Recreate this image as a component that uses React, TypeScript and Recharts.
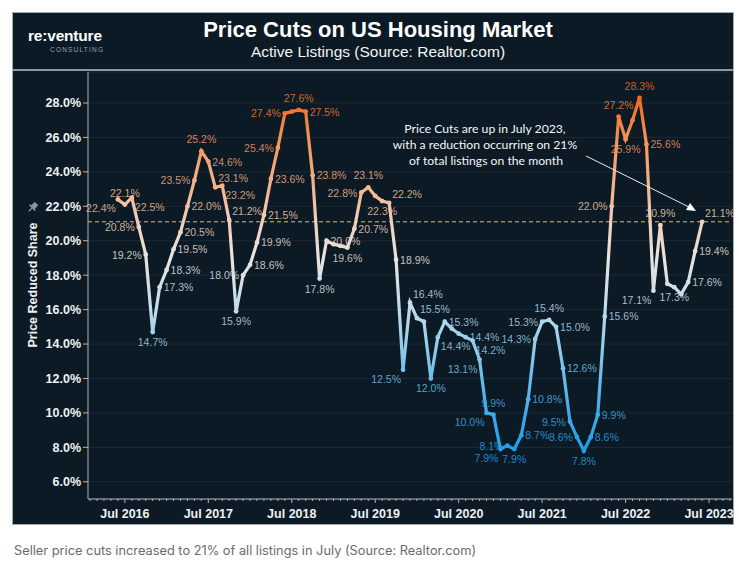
import { CartesianGrid, Line, LineChart, ReferenceLine, XAxis, YAxis } from "recharts"

// share of active listings with a price cut, monthly, Jun 2016 .. Jun 2023
const values2016 = [22.4, 22.1, 22.5, 20.8, 19.2, 14.7, 17.3]
const values2017 = [18.3, 19.5, 20.5, 22.0, 23.5, 25.2, 24.6, 23.1, 23.2, 21.2, 15.9, 18.0]
const values2018 = [18.6, 19.9, 21.5, 23.6, 25.4, 27.4, 27.5, 27.6, 27.5, 23.8, 17.8, 20.0]
const values2019 = [19.8, 19.7, 19.6, 20.7, 22.8, 23.1, 22.6, 22.3, 22.2, 18.9, 12.5, 16.4]
const values2020 = [15.5, 15.3, 12.0, 14.4, 15.3, 14.9, 14.6, 14.4, 14.2, 13.1, 10.0, 9.9]
const values2021 = [7.9, 8.1, 7.9, 8.7, 10.8, 14.3, 15.3, 15.4, 15.0, 12.6, 9.5, 8.6]
const values2022 = [7.8, 8.6, 9.9, 15.6, 22.0, 27.2, 25.9, 27.0, 28.3, 25.6, 17.1, 20.9]
const values2023 = [17.5, 17.3, 16.9, 17.6, 19.4, 21.1]

const latestValue = 21.1

const yTicks = [6, 8, 10, 12, 14, 16, 18, 20, 22, 24, 26, 28]
const xTickLabels = ["Jul 2016", "Jul 2017", "Jul 2018", "Jul 2019", "Jul 2020", "Jul 2021", "Jul 2022", "Jul 2023"]
const monthNames = ["Jan", "Feb", "Mar", "Apr", "May", "Jun", "Jul", "Aug", "Sep", "Oct", "Nov", "Dec"]

// where each point's value label sits ("" = no label)
const labelSide = [
  "bl", "t", "br", "l", "l", "b", "r",
  "r", "r", "r", "r", "l", "t", "r", "tr", "br", "tr", "b", "l",
  "r", "r", "r", "r", "l", "l", "", "t", "r", "r", "b", "r",
  "", "", "b", "r", "l", "t", "", "b", "tr", "r", "bl", "tr",
  "tr", "", "b", "br", "r", "", "", "r", "br", "bl", "bl", "t",
  "bl", "l", "b", "r", "r", "l", "l", "t", "r", "r", "l", "l",
  "b", "r", "r", "r", "l", "t", "b", "", "t", "r", "bl", "t",
  "", "b", "", "r", "r", "tr",
]

const values = [
  ...values2016, ...values2017, ...values2018, ...values2019,
  ...values2020, ...values2021, ...values2022, ...values2023,
]

const data = values.map((value, i) => ({
  idx: i,
  month: `${monthNames[(5 + i) % 12]} ${2016 + Math.floor((5 + i) / 12)}`,
  value,
}))

const majorIdx = xTickLabels.map((_, k) => 1 + 12 * k)
const monthTicks: number[] = []
for (let i = -4; i <= 88; i++) monthTicks.push(i)

const colorStops: [number, string][] = [
  [7.8, "#1f9ee9"],
  [10, "#40aaea"],
  [13, "#80c4ea"],
  [16, "#c0dcea"],
  [19, "#e8e4e0"],
  [21, "#f0d0bb"],
  [23, "#f2b690"],
  [25.5, "#f29a62"],
  [28.3, "#f26a20"],
]

function hexToRgb(h: string) {
  return [1, 3, 5].map((p) => parseInt(h.slice(p, p + 2), 16))
}

function colorFor(v: number) {
  if (v <= colorStops[0][0]) return colorStops[0][1]
  for (let i = 1; i < colorStops.length; i++) {
    const [v1, c1] = colorStops[i]
    const [v0, c0] = colorStops[i - 1]
    if (v <= v1) {
      const t = (v - v0) / (v1 - v0)
      const a = hexToRgb(c0)
      const b = hexToRgb(c1)
      const m = a.map((x, j) => Math.round(x + (b[j] - x) * t))
      return `rgb(${m[0]},${m[1]},${m[2]})`
    }
  }
  return colorStops[colorStops.length - 1][1]
}

const vMax = Math.max(...values)
const vMin = Math.min(...values)
const gradStops = [...colorStops].reverse().map(([v, c]) => ({
  offset: Math.min(1, Math.max(0, (vMax - v) / (vMax - vMin))),
  color: c,
}))

const font = '"Liberation Sans", Arial, sans-serif'
const bg = "#0b1a24"

function PointMark(props: any) {
  const { cx, cy, index, payload } = props
  const c = colorFor(payload.value)
  const side = labelSide[index]
  let dx = 0
  let dy = 0
  let anchor = "middle"
  if (side === "t") dy = -8
  else if (side === "b") dy = 14
  else if (side === "l") { dx = -4; dy = 4; anchor = "end" }
  else if (side === "r") { dx = 4; dy = 4; anchor = "start" }
  else if (side === "tr") { dx = 3; dy = -5; anchor = "start" }
  else if (side === "br") { dx = 3; dy = 13; anchor = "start" }
  else if (side === "bl") { dx = -2; dy = 13; anchor = "end" }
  return (
    <g key={`pt-${index}`}>
      <circle cx={cx} cy={cy} r={2.4} fill={c} />
      {side && (
        <text x={cx + dx} y={cy + dy} textAnchor={anchor} fontSize={10.5} fontFamily={font} fill={c} fillOpacity={0.85}>
          {payload.value.toFixed(1)}%
        </text>
      )}
    </g>
  )
}

function MonthTick(props: any) {
  const { x, y, payload } = props
  const k = majorIdx.indexOf(payload.value)
  return (
    <g>
      <line x1={x} x2={x} y1={y} y2={y + (k >= 0 ? 4 : 2)} stroke="#aeb6ba" strokeWidth={1} />
      {k >= 0 && (
        <text x={x} y={y + 19} textAnchor="middle" fontSize={12.5} fontWeight="bold" fontFamily={font} fill="#eef1f3">
          {xTickLabels[k]}
        </text>
      )}
    </g>
  )
}

export default function App() {
  return (
    <div style={{ position: "absolute", left: 0, top: 0, width: 739, height: 569, background: "#fff", fontFamily: font }}>
      <div style={{ position: "absolute", left: 12, top: 12, width: 720, height: 511, background: bg, border: "1.5px solid #a4acb0" }} />
      <div style={{ position: "absolute", left: 13, top: 69, width: 720, height: 2, background: "#8e979c" }} />
      <div style={{ position: "absolute", left: 28, top: 27, color: "#fff", fontSize: 15.5, fontWeight: "bold", letterSpacing: -0.2 }}>
        re:venture
      </div>
      <div style={{ position: "absolute", left: 50, top: 46, color: "#9aa4aa", fontSize: 6.5, letterSpacing: 1.2 }}>CONSULTING</div>
      <div style={{ position: "absolute", left: 178, width: 400, top: 17, textAlign: "center", color: "#fff", fontSize: 22, fontWeight: "bold" }}>
        Price Cuts on US Housing Market
      </div>
      <div style={{ position: "absolute", left: 178, width: 400, top: 43, textAlign: "center", color: "#f2f4f5", fontSize: 15.5 }}>
        Active Listings (Source: Realtor.com)
      </div>
      <div style={{ position: "absolute", left: 0, top: 0 }}>
        <LineChart width={739} height={569} data={data} margin={{ top: 72, right: 7, bottom: 40, left: 28 }}>
          <defs>
            <linearGradient id="cutGrad" x1="0" y1="0" x2="0" y2="1">
              {gradStops.map((s, i) => (
                <stop key={i} offset={s.offset} stopColor={s.color} />
              ))}
            </linearGradient>
          </defs>
          <CartesianGrid vertical={false} stroke="#1b2b36" />
          <XAxis
            dataKey="idx"
            type="number"
            domain={[-4.3, 88.3]}
            ticks={monthTicks}
            interval={0}
            height={30}
            tickSize={0}
            tickMargin={0}
            tickLine={false}
            axisLine={{ stroke: "#aeb6ba" }}
            tick={<MonthTick />}
          />
          <YAxis
            type="number"
            domain={[5, 29.8]}
            ticks={yTicks}
            interval={0}
            width={60}
            tickSize={5}
            axisLine={{ stroke: "#aeb6ba" }}
            tickLine={{ stroke: "#aeb6ba" }}
            tickFormatter={(v: number) => `${v.toFixed(1)}%`}
            tick={{ fill: "#eef1f3", fontSize: 12.5, fontWeight: "bold", fontFamily: font }}
          />
          <ReferenceLine y={latestValue} stroke="#d4cc3a" strokeDasharray="4 3" strokeWidth={1} />
          <Line
            type="linear"
            dataKey="value"
            stroke="url(#cutGrad)"
            strokeWidth={3.2}
            dot={PointMark}
            activeDot={false}
            isAnimationActive={false}
          />
        </LineChart>
      </div>
      <svg width={739} height={569} style={{ position: "absolute", left: 0, top: 0, pointerEvents: "none" }}>
        <text x={37} y={285} transform="rotate(-90 37 285)" textAnchor="middle" fontSize={12.5} fontWeight="bold" fill="#eef1f3" fontFamily={font}>
          Price Reduced Share
        </text>
        <g transform="translate(33 207) rotate(45)" fill="#8b959b">
          <rect x={-2.5} y={-5} width={5} height={6} rx={1} />
          <rect x={-4} y={0} width={8} height={1.6} />
          <rect x={-0.6} y={1} width={1.2} height={5} />
        </g>
        <g fontFamily="Lato, sans-serif" fontSize={12.2} fill="#f4f6f7" textAnchor="middle">
          <text x={485} y={133}>Price Cuts are up in July 2023,</text>
          <text x={485} y={149}>with a reduction occurring on 21%</text>
          <text x={486} y={165}>of total listings on the month</text>
        </g>
        <line x1={586} y1={156} x2={689} y2={207} stroke="#e8ecee" strokeWidth={1} />
        <polygon points="696,211 686,210 690,203" fill="#fff" />
      </svg>
      <div style={{ position: "absolute", left: 14, top: 543, color: "#6b6b6b", fontSize: 12.8, fontFamily: "Inter, sans-serif" }}>
        Seller price cuts increased to 21% of all listings in July (Source: Realtor.com)
      </div>
    </div>
  )
}
